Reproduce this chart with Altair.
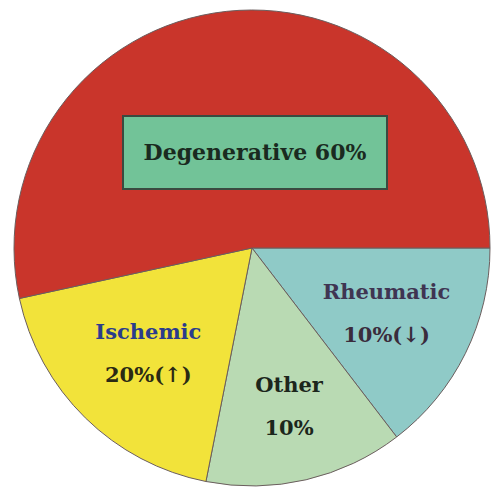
import altair as alt
import pandas as pd

categories = ["Rheumatic", "Other", "Ischemic", "Degenerative"]
shares = [14.6, 13.5, 18.5, 53.4]
pct_text = ["10%(\u2193)", "10%", "20%(\u2191)", "60%"]
colors = ["#8fcac7", "#b9dab3", "#f2e33a", "#c9352b"]

# label styling (not data)
label_radius = [150, 163, 148, 0]
title_colors = ["#3f3552", "#1c261c", "#2b3c8c", "#1a2a20"]
pct_colors = ["#3a2c3c", "#1c261c", "#2a2a14", "#1a2a20"]

df = pd.DataFrame({
    "cat": categories,
    "share": shares,
    "order": list(range(len(categories))),
    "pct": pct_text,
    "color": colors,
    "lr": label_radius,
    "tc": title_colors,
    "pc": pct_colors,
})

CX, CY, R = 244, 239, 238
PI = 3.141592653589793
start = PI / 2

theta = alt.Theta("share:Q", stack=True, scale=alt.Scale(range=[start, start + 2 * PI]))

pie = alt.Chart(df).mark_arc(radius=R, stroke="#6b5e5e", strokeWidth=1).encode(
    theta=theta,
    order=alt.Order("order:Q"),
    color=alt.Color("color:N", scale=None),
    x=alt.value(CX),
    y=alt.value(CY),
)

lab = alt.Chart(df).transform_filter(
    "datum.cat != 'Degenerative'"
).transform_joinaggregate(
    total="sum(share)"
).transform_window(
    cum="sum(share)", sort=[alt.SortField("order")], frame=[None, 0]
).transform_calculate(
    mid=f"{start} + 2*PI*(datum.cum - datum.share/2)/100",
).transform_calculate(
    px=f"{CX} + datum.lr*sin(datum.mid)",
    py=f"{CY} - datum.lr*cos(datum.mid)",
)

font = "DejaVu Serif"
enc = dict(
    x=alt.X("px:Q", scale=None, axis=None),
    y=alt.Y("py:Q", scale=None, axis=None),
)
titles = lab.mark_text(font=font, fontWeight="bold", fontSize=21, dy=-21).encode(
    text="cat:N", color=alt.Color("tc:N", scale=None), **enc
)
pcts = lab.mark_text(font=font, fontWeight="bold", fontSize=21, dy=22).encode(
    text="pct:N", color=alt.Color("pc:N", scale=None), **enc
)

deg = df[df["cat"] == "Degenerative"]
box = alt.Chart(deg).mark_rect(fill="#72c398", stroke="#3a4a40", strokeWidth=2).encode(
    x=alt.value(115), x2=alt.value(379), y=alt.value(107), y2=alt.value(180)
)
deg_text = alt.Chart(deg).mark_text(font=font, fontWeight="bold", fontSize=22, color="#1a2a20").encode(
    x=alt.value(247), y=alt.value(144),
    text=alt.Text("label:N"),
).transform_calculate(label="datum.cat + ' ' + datum.pct")

chart = alt.layer(pie, box, deg_text, titles, pcts).properties(
    width=484, height=480,
    autosize=alt.AutoSizeParams(type="fit", contains="padding"),
    padding=0,
    background="white",
).configure_view(stroke=None)

chart.save("out.html", embed_options={"renderer": "svg", "actions": False})
